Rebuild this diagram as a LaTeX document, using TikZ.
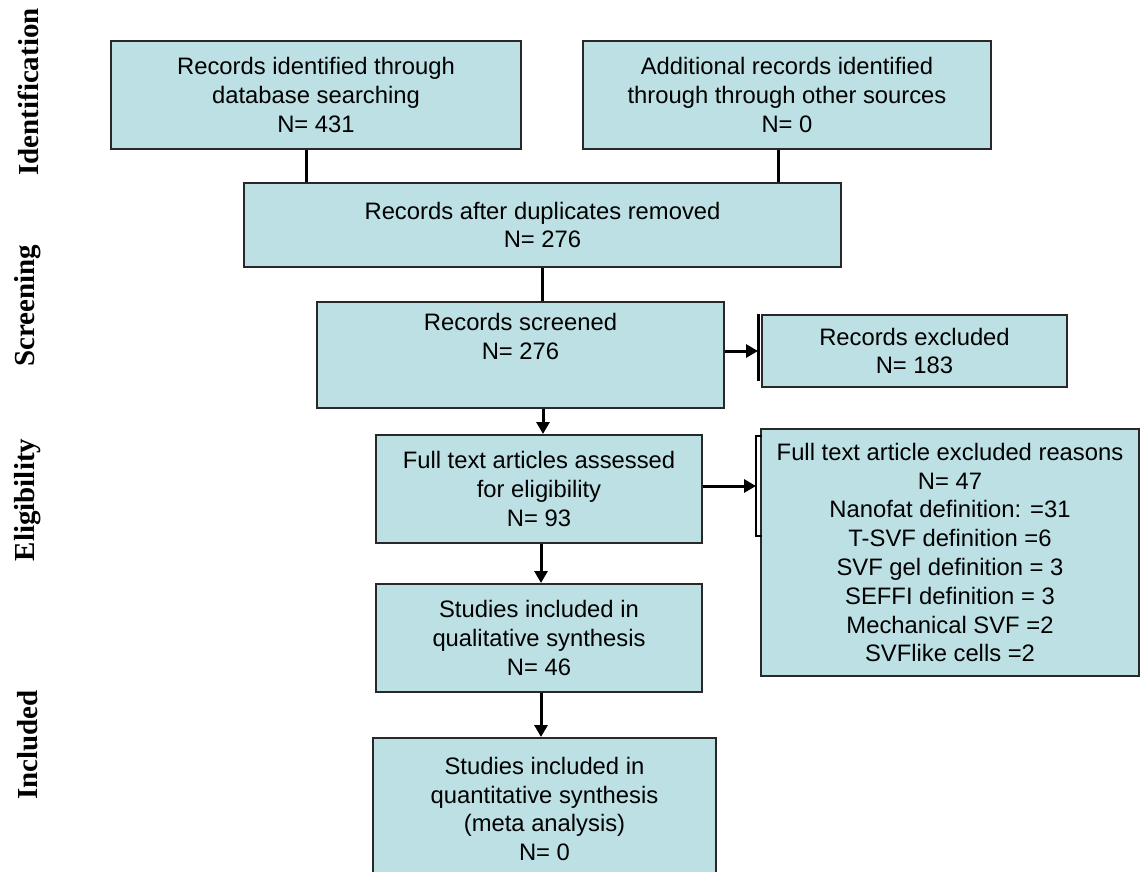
\documentclass[tikz,border=0pt]{standalone}
\usepackage{fontspec}
\setmainfont{Liberation Sans}
\newfontfamily\labelfont{Liberation Serif}
\usetikzlibrary{arrows.meta,calc}
\definecolor{boxfill}{RGB}{188,224,228}
\definecolor{boxline}{RGB}{40,40,40}
\tikzset{
  pbox/.style={draw=boxline, line width=2pt, fill=boxfill, inner sep=0pt, align=center,
    font=\fontsize{23.8}{28.8}\selectfont},
  conn/.style={line width=3pt, draw=black},
  arr/.style={conn, -{Triangle[length=12pt,width=13pt]}},
  phase/.style={rotate=90, font=\labelfont\bfseries\fontsize{29}{31}\selectfont, inner sep=0pt},
  bar/.style={line width=3pt, draw=black}
}
\begin{document}
\begin{tikzpicture}[x=1pt,y=-1pt]
\useasboundingbox (0,0) rectangle (1140,872);
\clip (0,0) rectangle (1140,872);
% phase labels
\node[phase] (pid) at (28,92) {Identification};
\node[phase] (psc) at (28,306) {Screening};
\node[phase] (pel) at (28,500) {Eligibility};
\node[phase] (pin) at (28,745) {Included};
% boxes
\node[pbox, minimum width=410pt, minimum height=108pt] (A) at (316,95)
  {Records identified through\\database searching\\N= 431};
\node[pbox, minimum width=408pt, minimum height=108pt] (B) at (787,95)
  {Additional records identified\\through through other sources\\N= 0};
\node[pbox, minimum width=597pt, minimum height=84pt] (C) at (542.5,225)
  {Records after duplicates removed\\N= 276};
\node[pbox, minimum width=407pt, minimum height=106pt] (D) at (520.5,355)
  {Records screened\\N= 276\\\strut};
\node[pbox, minimum width=305pt, minimum height=72pt] (E) at (914.5,351)
  {Records excluded\\N= 183};
\node[pbox, minimum width=326pt, minimum height=108pt] (F) at (539,489)
  {Full text articles assessed\\for eligibility\\N= 93};
\node[pbox, minimum width=378pt, minimum height=247pt] (G) at (950,552.5)
  {Full text article excluded reasons\\N= 47\\Nanofat definition: =31\\T-SVF definition =6\\SVF gel definition = 3\\SEFFI definition = 3\\Mechanical SVF =2\\SVFlike cells =2};
\node[pbox, minimum width=326pt, minimum height=108pt] (H) at (539,638)
  {Studies included in\\qualitative synthesis\\N= 46};
\node[pbox, minimum width=343pt, minimum height=142pt] (I) at (544.5,809)
  {Studies included in\\quantitative synthesis\\(meta analysis)\\N= 0};
% helper coordinates
\coordinate (a1) at ($(A.south)+(-10,0)$);
\coordinate (b1) at ($(B.south)+(-9,0)$);
\coordinate (d1) at ($(D.south)+(22.5,0)$);
\coordinate (d2) at ($(D.east)+(0,-4)$);
\coordinate (e1) at ($(E.west)+(-3,0)$);
\coordinate (f1) at ($(F.east)+(0,-3)$);
\coordinate (g1) at ($(G.west)+(-4,0)$);
\coordinate (f2) at ($(F.south)+(2,0)$);
\coordinate (h1) at ($(H.south)+(2,0)$);
% connectors
\draw[conn] (a1) -- (a1 |- C.north);
\draw[conn] (b1) -- (b1 |- C.north);
\draw[conn] (C.south) -- (C.south |- D.north);
\draw[arr] (d1) -- (d1 |- F.north);
\draw[arr] (d2) -- (d2 -| e1);
\draw[bar] ($(E.north west)+(-3,0)$) -- ($(E.south west)+(-3,-7)$);
\draw[arr] (f1) -- (f1 -| g1);
\draw[line width=1.8pt] ($(G.north west)+(2,8)$) -- ($(G.north west)+(-4,8)$)
  -- ($(G.north west)+(-4,108)$) -- ($(G.north west)+(2,108)$);
\draw[arr] (f2) -- (f2 |- H.north);
\draw[arr] (h1) -- (h1 |- I.north);
\end{tikzpicture}
\end{document}
